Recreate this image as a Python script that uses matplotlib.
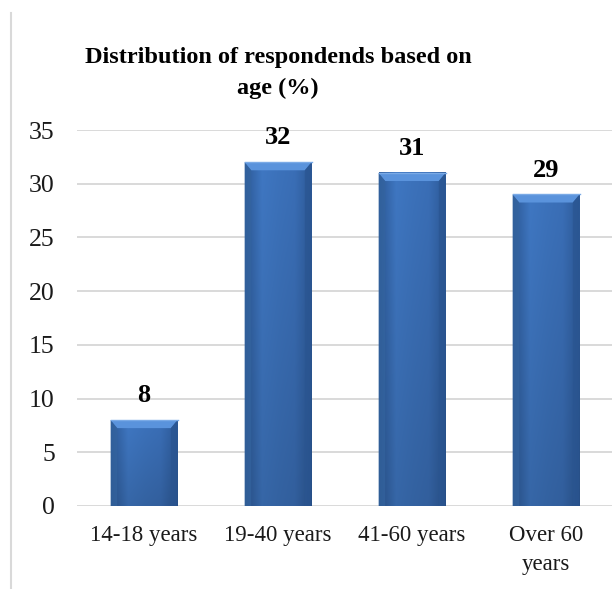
import numpy as np
import matplotlib
matplotlib.use("Agg")
import matplotlib.pyplot as plt
from matplotlib.colors import LinearSegmentedColormap
from matplotlib.lines import Line2D

categories = ["14-18 years", "19-40 years", "41-60 years", "Over 60\nyears"]
values = [8, 32, 31, 29]
yticks = [0, 5, 10, 15, 20, 25, 30, 35]
title = "Distribution of respondends based on\nage (%)"

W, H = 612, 589
fig = plt.figure(figsize=(W / 100, H / 100), dpi=100)
plt.rcParams["font.family"] = ["Liberation Serif", "DejaVu Serif"]

ax = fig.add_axes([77 / W, 1 - 506 / H, 536 / W, 376 / H])
ax.set_xlim(-0.5, len(categories) - 0.5)
ax.set_ylim(0, 35)

# gridlines
for t in yticks:
    ax.axhline(t, color="#d9d9d9", lw=1.4, zorder=0)

for s in ax.spines.values():
    s.set_visible(False)
ax.set_yticks(yticks)
ax.set_yticklabels([str(t) for t in yticks], fontsize=18.5, color="#1a1a1a")
ax.set_xticks(range(len(categories)))
ax.set_xticklabels(categories, fontsize=16.5, color="#1a1a1a", linespacing=1.45)
ax.tick_params(axis="both", length=0)
ax.tick_params(axis="y", pad=16)
ax.tick_params(axis="x", pad=14)

# shaded bevel colormaps
horiz = LinearSegmentedColormap.from_list(
    "hz", ["#2d5a98", "#3f77c2", "#3c72bb", "#3a6eb6", "#2d5a98"])
bw = 0.5
for i, v in enumerate(values):
    x0, x1 = i - bw / 2, i + bw / 2
    # body with soft horizontal shading and darker bottom
    nx, ny = 64, 64
    gx = np.linspace(0, 1, nx)
    gy = np.linspace(0, 1, ny)[:, None]
    base = horiz(gx)[None, :, :3] * np.ones((ny, 1, 1))
    shade = (0.86 + 0.14 * gy)[..., None]  # darker toward bottom
    img = np.clip(base * shade, 0, 1)
    ax.imshow(img, extent=[x0, x1, 0, v], origin="lower", aspect="auto",
              zorder=2, interpolation="bilinear")
    # top bevel (light trapezoid)
    bev_h = 0.75
    inset = 0.05
    ax.fill([x0, x1, x1 - inset, x0 + inset], [v, v, v - bev_h, v - bev_h],
            color="#5a93dc", zorder=3, lw=0)
    ax.plot([x0, x1], [v, v], color="#7aaae6", lw=1.0, zorder=4)
    # side bevels
    ax.fill([x0, x0 + inset, x0 + inset, x0], [v, v - bev_h, 0, 0],
            color="#34649f", zorder=3, lw=0, alpha=0.7)
    ax.fill([x1, x1 - inset, x1 - inset, x1], [v, v - bev_h, 0, 0],
            color="#2a5591", zorder=3, lw=0, alpha=0.7)
    ax.text(i, v + 1.2, str(v), ha="center", va="bottom",
            fontsize=19, fontweight="bold", color="#000000", zorder=5)

ax.set_xlim(-0.5, len(categories) - 0.5)
ax.set_ylim(0, 35)

fig.text(278 / W, 1 - 73 / H, title, ha="center", va="center",
         fontsize=17.5, fontweight="bold", linespacing=1.55, color="#000000")

# chart frame edge on the left
fig.add_artist(Line2D([11 / W, 11 / W], [1 - 13 / H, 0.0],
                      transform=fig.transFigure, color="#d9d9d9", lw=1.5))

fig.savefig("out.png", dpi=100)
